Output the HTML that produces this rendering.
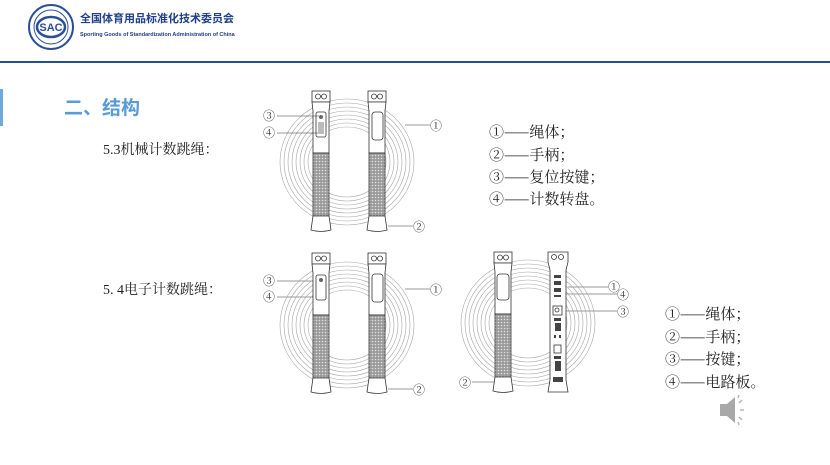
<!DOCTYPE html>
<html><head><meta charset="utf-8"><style>
html,body{margin:0;padding:0;background:#fff;width:830px;height:465px;overflow:hidden}
svg text{font-family:"Liberation Serif","Noto Serif CJK SC",serif}
svg text.cj{font-family:"Noto Serif CJK SC",serif}
</style></head><body>
<svg width="830" height="465" viewBox="0 0 830 465" xmlns="http://www.w3.org/2000/svg">
<defs>
<pattern id="kn" width="3" height="3" patternUnits="userSpaceOnUse"><rect width="3" height="3" fill="#9a9a9a"/><circle cx="1.5" cy="1.5" r="0.8" fill="#e0e0e0"/></pattern>
<g id="coils" fill="none" stroke="#a5a5a5" stroke-width="0.6">
<ellipse cx="0" cy="0" rx="67" ry="63"/><ellipse cx="0" cy="0" rx="63" ry="59"/><ellipse cx="0" cy="0" rx="59" ry="55"/><ellipse cx="0" cy="0" rx="55" ry="51"/><ellipse cx="0" cy="0" rx="51" ry="47"/><ellipse cx="0" cy="0" rx="47" ry="43"/><ellipse cx="0" cy="0" rx="43" ry="39"/><ellipse cx="0" cy="0" rx="39" ry="35"/>
</g>
<g id="handle" stroke="#333" stroke-width="0.8">
<rect x="0" y="0" width="18" height="11" fill="#fff"/>
<circle cx="6" cy="5.5" r="2.5" fill="#fff"/><circle cx="12" cy="5.5" r="2.5" fill="#fff"/>
<path d="M0 11 L18 11 L17 20 L17 62 L1 62 L1 20 Z" fill="#fff"/>
<rect x="1" y="62" width="16" height="63" fill="url(#kn)"/>
<path d="M1 125 L17 125 L19 139 Q9 142 -1 139 Z" fill="#fff"/>
</g>
</defs>
<rect width="830" height="465" fill="#fff"/>
<circle cx="51" cy="27" r="22" fill="#fff" stroke="#2b4f96" stroke-width="2"/>
<circle cx="51" cy="27" r="17" fill="#fff" stroke="#2b4f96" stroke-width="1"/>
<ellipse cx="51" cy="27" rx="14" ry="10" fill="#fff" stroke="#2b4f96" stroke-width="2.5"/>
<text x="51" y="31" text-anchor="middle" font-size="11" font-weight="bold" fill="#2b4f96" style="font-family:'Liberation Sans',sans-serif">SAC</text>
<text x="80" y="22" font-size="11" font-weight="bold" fill="#1f3f8a" style="font-family:'Liberation Sans','Noto Sans CJK SC',sans-serif">全国体育用品标准化技术委员会</text>
<text x="80" y="36" font-size="5.5" font-weight="bold" fill="#1f3f8a" style="font-family:'Liberation Sans',sans-serif">Sporting Goods of Standardization Administration of China</text>
<rect x="0" y="61" width="830" height="2" fill="#1f4e9c"/>
<rect x="0" y="89" width="3" height="37" fill="#6fa8dc"/>
<text x="64" y="114" font-size="19" font-weight="bold" fill="#5b9bd5" style="font-family:'Liberation Sans','Noto Sans CJK SC',sans-serif">二、结构</text>
<text x="103" y="154" font-size="14" fill="#222">5.3机械计数跳绳：</text>
<text x="103" y="294" font-size="14" fill="#222">5. 4电子计数跳绳：</text>
<use href="#coils" x="347" y="162"/>
<use href="#handle" x="312" y="91"/>
<use href="#handle" x="368" y="91"/>
<rect x="316" y="112" width="10" height="25" rx="2" fill="#fff" stroke="#333" stroke-width="0.8"/>
<circle cx="321" cy="117" r="2" fill="#666"/>
<rect x="318" y="122" width="6" height="12" fill="#bbb"/>
<rect x="372" y="112" width="11" height="28" rx="3" fill="#fff" stroke="#333" stroke-width="0.8"/>
<g stroke="#333" stroke-width="0.6" fill="none">
<line x1="277" y1="116" x2="319" y2="116"/><line x1="277" y1="133" x2="318" y2="133"/>
<line x1="405" y1="125" x2="430" y2="125"/><line x1="388" y1="226" x2="413" y2="226"/>
<line x1="277" y1="281" x2="319" y2="281"/><line x1="277" y1="297" x2="318" y2="297"/>
<line x1="405" y1="289" x2="430" y2="289"/><line x1="388" y1="389" x2="413" y2="389"/>
<line x1="568" y1="287" x2="608" y2="287"/><line x1="556" y1="294" x2="617" y2="294"/>
<line x1="559" y1="311" x2="617" y2="311"/><line x1="472" y1="382" x2="495" y2="382"/>
</g>
<g font-size="12" fill="#333" class="cj">
<text class="cj" x="263" y="120">③</text><text class="cj" x="263" y="137">④</text><text class="cj" x="430" y="130">①</text><text class="cj" x="413" y="231">②</text>
<text class="cj" x="263" y="285">③</text><text class="cj" x="263" y="301">④</text><text class="cj" x="430" y="294">①</text><text class="cj" x="413" y="394">②</text>
<text class="cj" x="608" y="291">①</text><text class="cj" x="617" y="299">④</text><text class="cj" x="617" y="316">③</text><text class="cj" x="459" y="387">②</text>
</g>
<use href="#coils" x="347" y="325"/>
<use href="#handle" x="312" y="253"/>
<use href="#handle" x="368" y="253"/>
<rect x="316" y="275" width="10" height="25" rx="2" fill="#fff" stroke="#333" stroke-width="0.8"/>
<circle cx="321" cy="280" r="2" fill="#666"/>
<rect x="372" y="274" width="11" height="28" rx="3" fill="#fff" stroke="#333" stroke-width="0.8"/>
<use href="#coils" x="528" y="323"/>
<use href="#handle" x="494" y="252"/>
<rect x="497" y="274" width="12" height="26" rx="3" fill="#fff" stroke="#333" stroke-width="0.8"/>
<g stroke="#333" stroke-width="0.8" fill="#fff">
<path d="M548 252 L568 252 L568 262 L566 270 L566 380 L568 392 L548 392 L550 380 L550 270 L548 262 Z"/>
<circle cx="554" cy="257" r="2.5"/><circle cx="561" cy="257" r="2.5"/>
<rect x="553" y="306" width="9" height="9"/><circle cx="557" cy="310" r="2"/>
<rect x="554" y="345" width="7" height="8"/>
</g>
<g fill="#444">
<rect x="554" y="275" width="7" height="3"/><rect x="554" y="281" width="7" height="4"/><rect x="554" y="288" width="7" height="4"/><rect x="554" y="295" width="7" height="2"/>
<rect x="554" y="318" width="7" height="3"/><rect x="555" y="323" width="6" height="8"/><rect x="554" y="335" width="2" height="3"/><rect x="559" y="335" width="2" height="3"/>
<rect x="554" y="356" width="7" height="3"/><rect x="555" y="361" width="6" height="10"/><rect x="553" y="377" width="10" height="5"/>
</g>
<g font-size="15" fill="#222">
<text class="cj" x="489" y="137">①——绳体；</text>
<text class="cj" x="489" y="160">②——手柄；</text>
<text class="cj" x="489" y="182">③——复位按键；</text>
<text class="cj" x="489" y="204">④——计数转盘。</text>
<text class="cj" x="665" y="319">①——绳体；</text>
<text class="cj" x="665" y="342">②——手柄；</text>
<text class="cj" x="665" y="364">③——按键；</text>
<text class="cj" x="665" y="387">④——电路板。</text>
</g>
<path d="M720 404 L727 404 L735 397 L735 423 L727 416 L720 416 Z" fill="#a8a8a8"/>
<g stroke="#b5b5b5" stroke-width="1.5"><line x1="739" y1="403" x2="742" y2="400"/><line x1="740" y1="410" x2="744" y2="410"/><line x1="739" y1="417" x2="742" y2="420"/><line x1="738" y1="398" x2="739" y2="395"/><line x1="738" y1="422" x2="739" y2="425"/></g>
</svg>
</body></html>
